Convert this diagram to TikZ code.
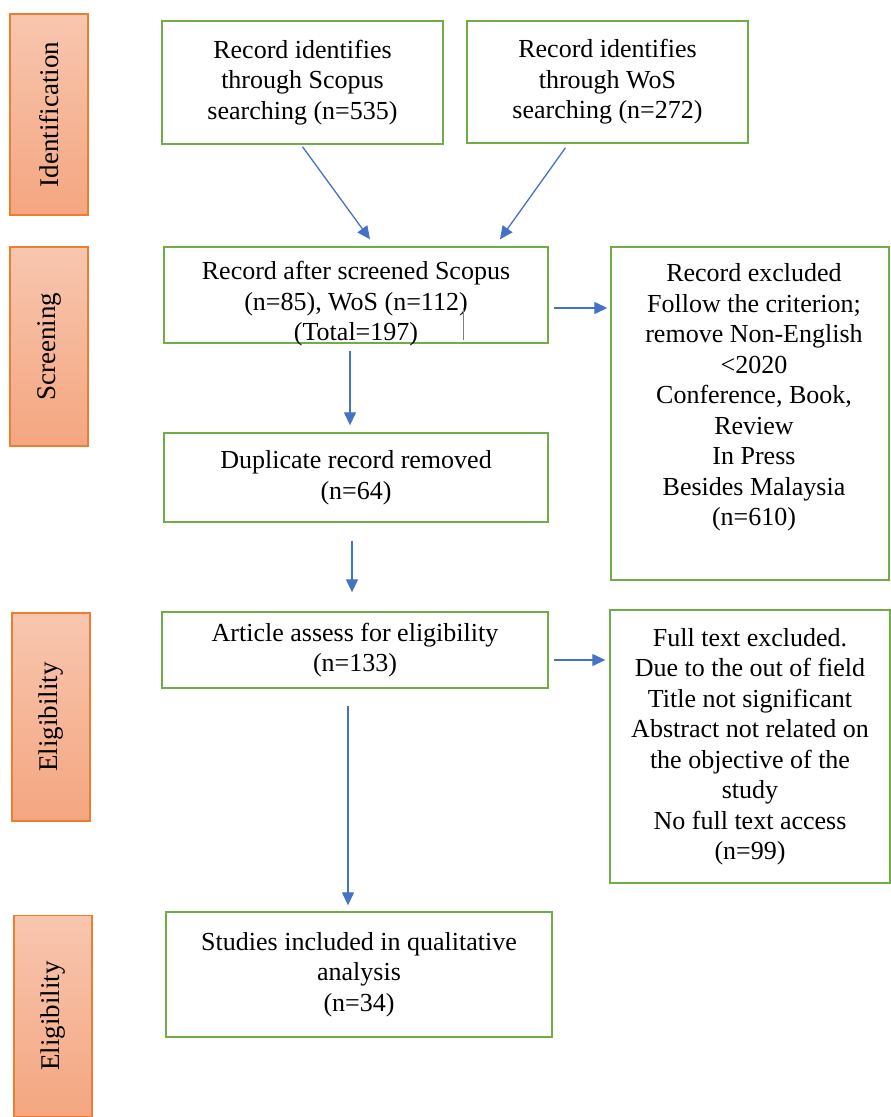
\documentclass[tikz,border=0pt]{standalone}
\usepackage{fontspec}
\setmainfont{Liberation Serif}
\usepackage{tikz}
\usetikzlibrary{arrows.meta, positioning, calc}
\definecolor{prgreen}{RGB}{112,173,71}
\definecolor{prblue}{RGB}{68,114,196}
\definecolor{prorange}{RGB}{237,125,49}
\definecolor{sidetop}{RGB}{248,198,175}
\definecolor{sidebot}{RGB}{244,166,128}

\tikzset{
  stagebox/.style={draw=prgreen, line width=1.4pt, fill=white, align=center,
    font=\fontsize{26}{30.5}\selectfont},
  stagetext/.style={align=center, font=\fontsize{26}{30.5}\selectfont},
  phasebox/.style={draw=prorange, line width=1.4pt,
    top color=sidetop, bottom color=sidebot, minimum width=78pt},
  phasetext/.style={rotate=90, font=\fontsize{27}{30}\selectfont},
  flow/.style={draw=prblue, line width=1.3pt, -{Triangle[length=13pt,width=12pt]}}
}

\begin{document}
\begin{tikzpicture}[x=1pt,y=-1pt]
\useasboundingbox (0,0) rectangle (891,1117);

% phase labels
\node[phasebox, minimum height=201pt] (phaseA) at (49,114.5) {};
\node[phasetext] at (phaseA) {Identification};
\node[phasebox, minimum height=199pt] (phaseB) at (49,346.5) {};
\node[phasetext] at (phaseB) {Screening};
\node[phasebox, minimum height=208pt] (phaseC) at (51,717) {};
\node[phasetext] at (phaseC) {Eligibility};
\node[phasebox, minimum height=201pt] (phaseD) at (53,1016) {};
\node[phasetext] at (phaseD) {Eligibility};

% main flow
\node[stagebox, minimum width=281pt, minimum height=123pt] (scopus) at (302.5,82.5)
  {Record identifies\\through Scopus\\searching (n=535)};
\node[stagebox, minimum width=281pt, minimum height=122pt] (wos) at (607.5,82)
  {Record identifies\\through WoS\\searching (n=272)};
\node[stagebox, minimum width=384pt, minimum height=96pt] (screen) at (356,295) {};
\node[stagetext] (screentext) at ($(screen.center)+(0,9)$)
  {Record after screened Scopus\\(n=85), WoS (n=112)\\(Total=197)};
\node[stagebox, minimum width=384pt, minimum height=89pt] (dup) at (356,477.5)
  {Duplicate record removed\\(n=64)};
\node[stagebox, minimum width=386pt, minimum height=76pt] (article) at (355,650)
  {Article assess for eligibility\\(n=133)};
\node[stagebox, minimum width=386pt, minimum height=125pt] (studies) at (359,974.5)
  {Studies included in qualitative\\analysis\\(n=34)};

% exclusions
\node[stagebox, minimum width=278pt, minimum height=333pt] (excl) at (750,413.5) {};
\node[stagetext, anchor=north] (excltext) at ($(excl.north)+(4,14)$)
  {Record excluded\\Follow the criterion;\\remove Non-English\\<2020\\Conference, Book,\\Review\\In Press\\Besides Malaysia\\(n=610)};
\node[stagebox, minimum width=280pt, minimum height=273pt] (fulltext) at (750,746.5)
  {Full text excluded.\\Due to the out of field\\Title not significant\\Abstract not related on\\the objective of the\\study\\No full text access\\(n=99)};

% connectors
\coordinate (scopusout) at ($(scopus.south)+(0,2)$);
\coordinate (scopusin) at ($(screen.north)+(14,-7)$);
\coordinate (wosout) at ($(wos.south)+(-42,4)$);
\coordinate (wosin) at ($(screen.north)+(144,-7)$);
\draw[flow] (scopusout) -- (scopusin);
\draw[flow] (wosout) -- (wosin);
\draw[flow] ($(screen.east)+(5,13)$) -- ($(excl.west |- screen.east)+(-3,13)$);
\draw[flow] ($(screen.south)+(-6,7)$) -- ($(dup.north)+(-6,-7)$);
\draw[flow] ($(dup.south)+(-4,18)$) -- ($(article.north)+(-3,-19)$);
\draw[flow] ($(article.east)+(5,10)$) -- ($(fulltext.west |- article.east)+(-4,10)$);
\draw[flow] ($(article.south)+(-7,17)$) -- ($(studies.north)+(-11,-6)$);

% stray cursor mark
\draw[gray, line width=0.5pt] ($(screen.center)+(107,13)$) -- +(0,32);
\end{tikzpicture}
\end{document}
